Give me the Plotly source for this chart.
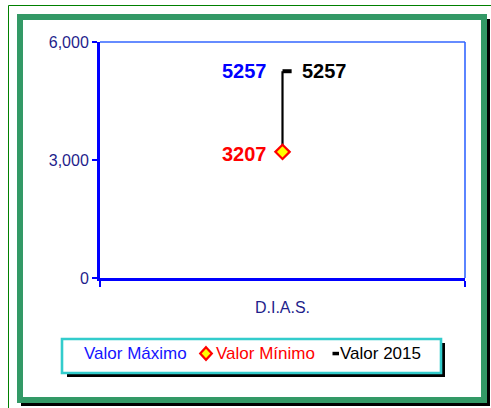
import plotly.graph_objects as go

# Series values
categories = ["D.I.A.S."]
valor_maximo = [5257]
valor_minimo = [3207]
valor_2015 = [5257]

# Axis ticks
y_ticks = [0, 3000, 6000]

FONT = "Arial, Liberation Sans, sans-serif"
FIG_W, FIG_H = 491, 408
L, R, T, B = 100, 26, 42, 130
PW, PH = FIG_W - L - R, FIG_H - T - B

# category positions on a linear x axis
xpos = list(range(len(categories)))
boundaries = [i - 0.5 for i in range(len(categories) + 1)]


def pxx(x):
    return (x - L) / PW


def pxy(y):
    return 1 - (y - T) / PH


def rect(x0, y0, x1, y1, **kw):
    return dict(type="rect", xref="paper", yref="paper",
                x0=pxx(x0), x1=pxx(x1), y0=pxy(y1), y1=pxy(y0), **kw)


fig = go.Figure()

# High-low line between maximum and minimum
for xp, hi, lo in zip(xpos, valor_maximo, valor_minimo):
    fig.add_trace(go.Scatter(
        x=[xp, xp], y=[hi, lo], mode="lines",
        line=dict(color="black", width=2.2),
        showlegend=False, hoverinfo="skip"))

# Minimum values: yellow diamond with red border
fig.add_trace(go.Scatter(
    x=xpos, y=valor_minimo, mode="markers", name="Valor Mínimo",
    marker=dict(symbol="diamond", size=11, color="#ffff00",
                line=dict(color="#ff0000", width=2.2)),
    showlegend=False))

# 2015 values: short dash to the right of the high-low line
fig.add_trace(go.Scatter(
    x=xpos, y=valor_2015, mode="markers", name="Valor 2015",
    marker=dict(size=1, color="rgba(0,0,0,0)"),
    error_x=dict(type="data", symmetric=False, array=[0.025] * len(categories),
                 arrayminus=[0] * len(categories), thickness=4, width=0,
                 color="black", visible=True),
    showlegend=False))

annotations = []
for xp, hi, lo, v in zip(xpos, valor_maximo, valor_minimo, valor_2015):
    annotations.append(dict(x=xp, y=hi, text=f"{hi}", showarrow=False,
                            xanchor="right", yanchor="middle", xshift=-14,
                            font=dict(family=FONT, size=20, color="#0000ff", weight="bold")))
    annotations.append(dict(x=xp, y=v, text=f"{v}", showarrow=False,
                            xanchor="left", yanchor="middle", xshift=17,
                            font=dict(family=FONT, size=20, color="black", weight="bold")))
    annotations.append(dict(x=xp, y=lo, text=f"{lo}", showarrow=False,
                            xanchor="right", yanchor="middle", xshift=-14, yshift=-2,
                            font=dict(family=FONT, size=20, color="#ff0000", weight="bold")))

# Legend entries
legend_items = [
    ("Valor Máximo", "#1414ff", 82),
    ("Valor Mínimo", "#ff0000", 214),
    ("Valor 2015", "black", 338),
]
for text, color, x in legend_items:
    annotations.append(dict(xref="paper", yref="paper", x=pxx(x), y=pxy(353.5),
                            text=text, showarrow=False, xanchor="left", yanchor="middle",
                            font=dict(family=FONT, size=17, color=color)))

shapes = [
    # thin outer border
    rect(8.5, 5.5, 520, 440, line=dict(color="#008000", width=1), layer="below"),
    # chart area shadow and frame
    rect(21, 19, 490, 406, line=dict(width=0), fillcolor="black", layer="below"),
    rect(20, 17, 484, 400, line=dict(color="#339966", width=6), fillcolor="white", layer="below"),
    # legend shadow and box
    rect(67, 343, 445, 377, line=dict(width=0), fillcolor="black", layer="below"),
    rect(62, 339, 441, 373, line=dict(color="#33cccc", width=2.6), fillcolor="white", layer="below"),
    # plot area top and right borders
    dict(type="line", xref="paper", yref="paper", x0=0, x1=1, y0=1, y1=1,
         line=dict(color="#3366ff", width=1.6), layer="above"),
    dict(type="line", xref="paper", yref="paper", x0=1, x1=1, y0=0, y1=1,
         line=dict(color="#3366ff", width=1.6), layer="above"),
]

# Legend symbols
cx, cy = 206, 353.5
pts = [(cx, cy - 6.3), (cx + 5.8, cy), (cx, cy + 6.3), (cx - 5.8, cy)]
path = "M " + " L ".join(f"{pxx(a)},{pxy(b)}" for a, b in pts) + " Z"
shapes.append(dict(type="path", xref="paper", yref="paper", path=path,
                   fillcolor="#ffff00", line=dict(color="#ff0000", width=2.2), layer="above"))
shapes.append(rect(332.5, 351.8, 339, 355.3, line=dict(width=0), fillcolor="black", layer="above"))

fig.update_layout(
    width=FIG_W, height=FIG_H,
    margin=dict(l=L, r=R, t=T, b=B),
    paper_bgcolor="white", plot_bgcolor="rgba(0,0,0,0)",
    showlegend=False,
    shapes=shapes, annotations=annotations,
    xaxis=dict(range=[boundaries[0], boundaries[-1]],
               tickmode="array", tickvals=xpos, ticktext=categories, ticks="",
               minor=dict(tickmode="array", tickvals=boundaries, ticks="outside",
                          ticklen=6, tickwidth=2, tickcolor="#0000ff", showgrid=False),
               showline=True, linecolor="#0000ff",
               linewidth=3, showgrid=False, zeroline=False, ticklabelstandoff=13,
               tickfont=dict(family=FONT, size=16, color="#1f1f8c")),
    yaxis=dict(range=[0, 6000], tickvals=y_ticks, tickformat=",", ticks="outside",
               ticklen=5, tickwidth=2, tickcolor="#0000ff", showline=True,
               linecolor="#0000ff", linewidth=3, showgrid=False, zeroline=False,
               tickfont=dict(family=FONT, size=16, color="#1f1f8c")),
)

fig.write_html("out.html")
